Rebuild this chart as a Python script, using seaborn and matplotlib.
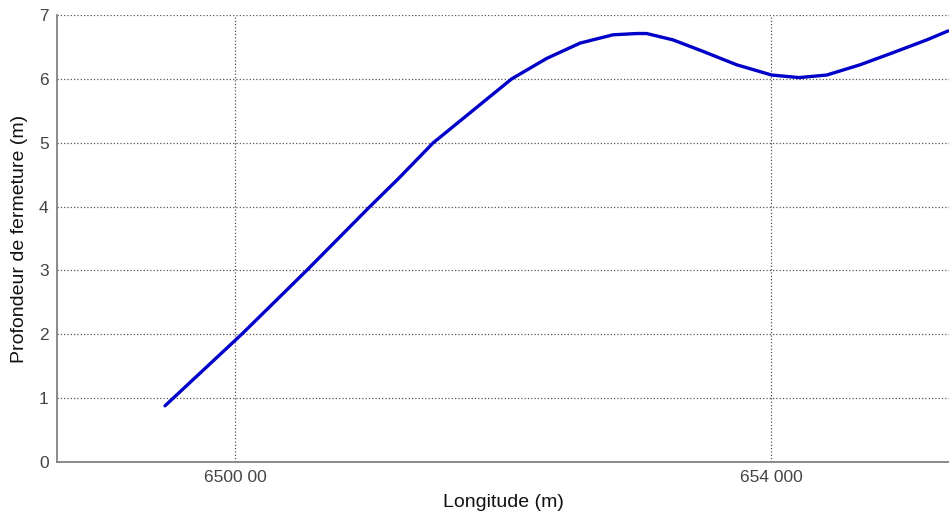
import numpy as np
import pandas as pd
import matplotlib
matplotlib.use('Agg')
import matplotlib.pyplot as plt
import seaborn as sns

# values
longitude = [649478, 650050, 650535, 651007, 651216, 651480, 652065, 652326,
             652575, 652821, 653000, 653072, 653269, 653493, 653744, 654005,
             654209, 654416, 654664, 654910, 655162, 655321]
profondeur = [0.88, 2.0, 3.0, 4.0, 4.43, 5.0, 6.0, 6.32,
              6.56, 6.69, 6.71, 6.71, 6.61, 6.43, 6.22, 6.06,
              6.02, 6.06, 6.22, 6.41, 6.61, 6.75]
xtick_pos = [650000, 654000]
xtick_labels = ['6500 00', '654 000']
ytick_pos = [0, 1, 2, 3, 4, 5, 6, 7]

df = pd.DataFrame({'Longitude': longitude, 'Profondeur': profondeur})

sns.set_style('white')
plt.rcParams['font.family'] = ['Liberation Sans', 'DejaVu Sans']

fig = plt.figure(figsize=(9.49, 5.12), dpi=100)
ax = fig.add_axes([57 / 949, 50 / 512, 1 - 57 / 949, 447 / 512])

sns.lineplot(data=df, x='Longitude', y='Profondeur', ax=ax,
             color='#0000c8', linewidth=2.4, estimator=None, sort=False)

ax.set_xlim(648672, 655328)
ax.set_ylim(0, 7)
ax.set_xticks(xtick_pos)
ax.set_xticklabels(xtick_labels)
ax.set_yticks(ytick_pos)

ax.grid(True, linestyle=':', color='#555555', linewidth=0.9)
ax.tick_params(direction='in', length=5, color='#777777', labelsize=12.5,
               labelcolor='#444444', pad=6)
for side in ['top', 'right']:
    ax.spines[side].set_visible(False)
for side in ['left', 'bottom']:
    ax.spines[side].set_color('#777777')
    ax.spines[side].set_linewidth(1.2)

ax.set_xlabel('Longitude (m)', fontsize=14, color='#111111', labelpad=6)
ax.set_ylabel('Profondeur de fermeture (m)', fontsize=14, color='#111111',
              labelpad=8)

fig.savefig('out.png', dpi=100)
